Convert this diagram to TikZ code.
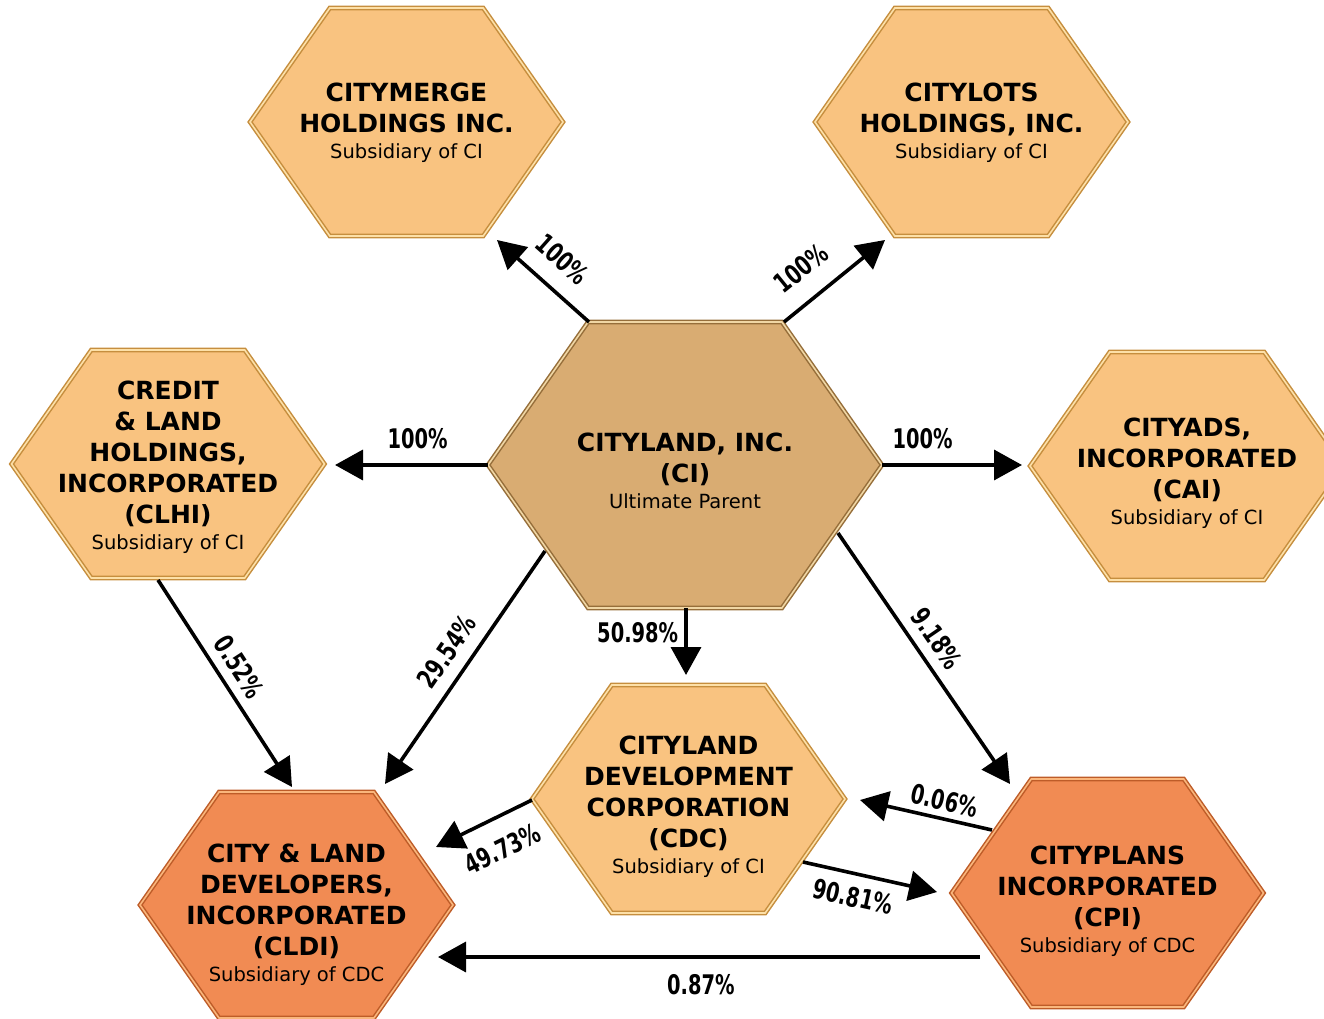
\documentclass[tikz,border=0pt]{standalone}
\usepackage{fontspec}
\setmainfont{DejaVu Sans}
\newfontfamily\pctfont{DejaVu Sans}[FakeStretch=0.72]
\usepackage{tikz}
\usetikzlibrary{calc}
\usetikzlibrary{arrows.meta}
\definecolor{hexlight}{RGB}{249,195,128}
\definecolor{hexlightrim}{RGB}{198,142,62}
\definecolor{hexlighthi}{RGB}{253,224,168}
\definecolor{hexparent}{RGB}{217,172,114}
\definecolor{hexparentrim}{RGB}{150,110,58}
\definecolor{hexparenthi}{RGB}{240,214,164}
\definecolor{hexorange}{RGB}{241,139,83}
\definecolor{hexorangerim}{RGB}{190,92,40}
\definecolor{hexorangehi}{RGB}{250,182,124}
\newcommand{\subsid}[1]{\\[-5pt]{\fontsize{19.5}{22}\selectfont\mdseries #1}}
% style, name, x, y, half width, half height, text shift, text
\newcommand{\hexnode}[8]{\draw[#1] (#3-#5,#4) -- (#3-#5+0.7*#6,#4-#6) -- (#3+#5-0.7*#6,#4-#6) -- (#3+#5,#4)
    -- (#3+#5-0.7*#6,#4+#6) -- (#3-#5+0.7*#6,#4+#6) -- cycle;
    \coordinate (#2) at (#3,#4);
    \node[hextext, #1txt] (#2-txt) at (#3,#4+#7) {#8};}

\begin{document}
\begin{tikzpicture}[x=1pt,y=-1pt,
        hexa/.style={line width=1.5pt, double distance=1.6pt, line join=miter},
        hexlt/.style={hexa, fill=hexlight, draw=hexlightrim, double=hexlighthi},
        hexor/.style={hexa, fill=hexorange, draw=hexorangerim, double=hexorangehi},
        hexci/.style={hexa, fill=hexparent, draw=hexparentrim, double=hexparenthi},
        hextext/.style={inner sep=0pt, align=center, font=\fontsize{25}{31}\selectfont\bfseries},
        hexlttxt/.style={}, hexortxt/.style={}, hexcitxt/.style={},
        arr/.style={line width=3.6pt, -{Triangle[length=28pt,width=30pt]}},
        pct/.style={font=\pctfont\bfseries\fontsize{27}{27}\selectfont, inner sep=0pt}]
        \useasboundingbox (0,0) rectangle (1324,1019);

        \hexnode{hexci}{ci}{685}{465}{197}{143}{6}{CITYLAND, INC.\\(CI)\subsid{Ultimate Parent}}
        \hexnode{hexlt}{cm}{406.5}{122}{156.5}{114}{1}{CITYMERGE\\HOLDINGS INC.\subsid{Subsidiary of CI}}
        \hexnode{hexlt}{cl}{971.5}{122}{156.5}{114}{1}{CITYLOTS\\HOLDINGS, INC.\subsid{Subsidiary of CI}}
        \hexnode{hexlt}{clhi}{168}{464}{156.5}{114}{3}{CREDIT\\\& LAND\\HOLDINGS,\\INCORPORATED\\(CLHI)\subsid{Subsidiary of CI}}
        \hexnode{hexlt}{cai}{1187}{466}{157}{114}{7}{CITYADS,\\INCORPORATED\\(CAI)\subsid{Subsidiary of CI}}
        \hexnode{hexlt}{cdc}{688.5}{799}{156.5}{114}{8}{CITYLAND\\DEVELOPMENT\\CORPORATION\\(CDC)\subsid{Subsidiary of CI}}
        \hexnode{hexor}{cldi}{296.5}{905}{156.5}{113}{10}{CITY \& LAND\\DEVELOPERS,\\INCORPORATED\\(CLDI)\subsid{Subsidiary of CDC}}
        \hexnode{hexor}{cpi}{1107.5}{893}{156}{114}{8}{CITYPLANS\\INCORPORATED\\(CPI)\subsid{Subsidiary of CDC}}

        \draw[arr] ($(ci)+(-96,-143)$) -- ($(cm)+(90.5,118)$)
            node[pct, pos=0.5, sloped, above=17pt] {100\%};
        \draw[arr] ($(ci)+(99,-143)$) -- ($(cl)+(-86.5,118)$)
            node[pct, pos=0.36, sloped, above=19pt] {100\%};
        \draw[arr] ($(ci)+(-197,0)$) -- ($(clhi)+(167,1)$)
            node[pct, pos=0.46, above=14pt] {100\%};
        \draw[arr] ($(ci)+(197,0)$) -- ($(cai)+(-165,-1)$)
            node[pct, pos=0.29, above=14pt] {100\%};
        \draw[arr] ($(ci)+(1,143)$) -- ($(cdc)+(-2.5,-124)$)
            node[pct, pos=0.37, left=6pt] {50.98\%};
        \draw[arr] ($(ci)+(-140,86)$) -- ($(cldi)+(88.5,-121)$)
            node[pct, pos=0.49, sloped, above=12pt] {29.54\%};
        \draw[arr] ($(ci)+(153,68)$) -- ($(cpi)+(-97.5,-109)$)
            node[pct, pos=0.47, sloped, above=10pt] {9.18\%};
        \draw[arr] ($(clhi)+(-10,116)$) -- ($(cldi)+(-4.5,-118)$)
            node[pct, pos=0.475, sloped, above=9pt] {0.52\%};
        \draw[arr] ($(cdc)+(-156.5,1)$) -- ($(cldi)+(139.5,-58)$)
            node[pct, pos=0.45, sloped, below=19pt] {49.73\%};
        \draw[arr] ($(cdc)+(114.5,63)$) -- ($(cpi)+(-170.5,-1)$)
            node[pct, pos=0.41, sloped, below=11pt] {90.81\%};
        \draw[arr] ($(cpi)+(-115.5,-63)$) -- ($(cdc)+(171.5,1)$)
            node[pct, pos=0.39, sloped, above=6pt] {0.06\%};
        \draw[arr] ($(cpi)+(-127.5,64)$) -- ($(cldi)+(141.5,52)$)
            node[pct, pos=0.515, below=16pt] {0.87\%};
    \end{tikzpicture}
\end{document}
